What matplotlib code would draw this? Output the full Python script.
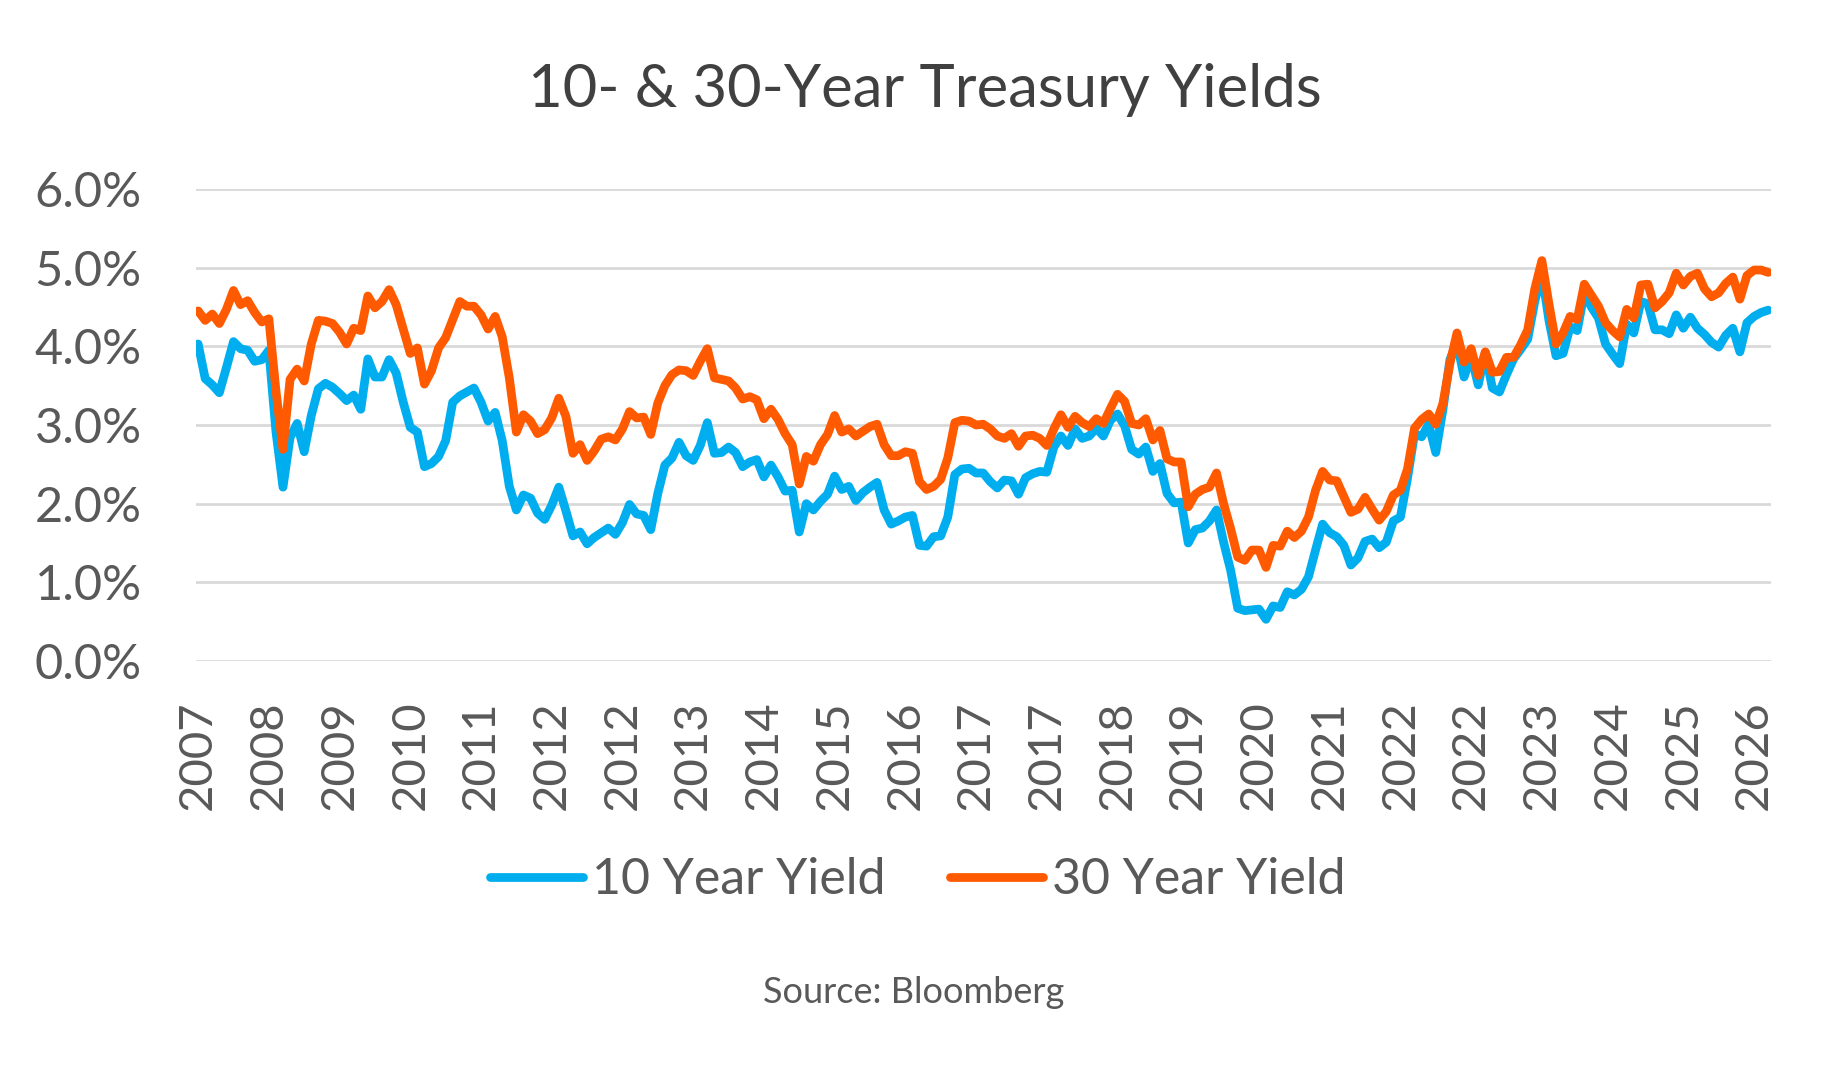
import pandas as pd
import matplotlib
matplotlib.use("Agg")
import matplotlib.pyplot as plt

plt.rcParams['font.family'] = ['Lato', 'DejaVu Sans']

# month-end yields (%), Dec 2007 onwards
yield_10y = [
    4.03,
    3.59, 3.51, 3.41, 3.73, 4.06, 3.97, 3.95, 3.81, 3.83, 3.95, 2.92, 2.21,  # 2008
    2.84, 3.02, 2.66, 3.12, 3.46, 3.53, 3.48, 3.40, 3.31, 3.38, 3.20, 3.84,  # 2009
    3.61, 3.61, 3.83, 3.66, 3.29, 2.97, 2.91, 2.47, 2.51, 2.60, 2.80, 3.29,  # 2010
    3.37, 3.42, 3.47, 3.29, 3.05, 3.16, 2.80, 2.22, 1.92, 2.11, 2.07, 1.88,  # 2011
    1.80, 1.98, 2.21, 1.91, 1.59, 1.64, 1.49, 1.57, 1.63, 1.69, 1.61, 1.76,  # 2012
    1.99, 1.87, 1.85, 1.67, 2.13, 2.49, 2.58, 2.78, 2.61, 2.55, 2.74, 3.03,  # 2013
    2.64, 2.65, 2.72, 2.65, 2.47, 2.53, 2.56, 2.34, 2.49, 2.34, 2.16, 2.17,  # 2014
    1.64, 2.00, 1.92, 2.03, 2.12, 2.35, 2.18, 2.22, 2.04, 2.14, 2.21, 2.27,  # 2015
    1.92, 1.74, 1.78, 1.83, 1.85, 1.47, 1.46, 1.58, 1.59, 1.83, 2.37, 2.44,  # 2016
    2.45, 2.39, 2.39, 2.28, 2.20, 2.30, 2.29, 2.12, 2.33, 2.38, 2.41, 2.40,  # 2017
    2.72, 2.86, 2.74, 2.95, 2.83, 2.86, 2.96, 2.86, 3.06, 3.14, 2.99, 2.69,  # 2018
    2.63, 2.72, 2.41, 2.51, 2.13, 2.01, 2.02, 1.50, 1.67, 1.69, 1.78, 1.92,  # 2019
    1.51, 1.15, 0.67, 0.64, 0.65, 0.66, 0.53, 0.70, 0.68, 0.88, 0.84, 0.91,  # 2020
    1.07, 1.41, 1.74, 1.63, 1.58, 1.47, 1.22, 1.31, 1.52, 1.55, 1.44, 1.51,  # 2021
    1.78, 1.83, 2.32, 2.89, 2.85, 3.01, 2.65, 3.19, 3.83, 4.05, 3.61, 3.88,  # 2022
    3.51, 3.92, 3.47, 3.42, 3.64, 3.84, 3.96, 4.09, 4.57, 4.93, 4.33, 3.88,  # 2023
    3.91, 4.25, 4.20, 4.68, 4.50, 4.36, 4.03, 3.90, 3.78, 4.28, 4.17, 4.57,  # 2024
    4.54, 4.21, 4.21, 4.16, 4.40, 4.23, 4.37, 4.23, 4.15, 4.05, 3.99, 4.14,  # 2025
    4.23, 3.93, 4.30, 4.38, 4.43, 4.46,                                      # 2026
]

yield_30y = [
    4.45,
    4.33, 4.41, 4.29, 4.47, 4.71, 4.53, 4.58, 4.43, 4.31, 4.35, 3.44, 2.69,  # 2008
    3.58, 3.71, 3.56, 4.03, 4.33, 4.32, 4.29, 4.18, 4.03, 4.23, 4.20, 4.64,  # 2009
    4.49, 4.57, 4.72, 4.53, 4.22, 3.91, 3.98, 3.52, 3.69, 3.98, 4.11, 4.34,  # 2010
    4.57, 4.51, 4.51, 4.40, 4.22, 4.38, 4.12, 3.60, 2.91, 3.13, 3.05, 2.89,  # 2011
    2.94, 3.09, 3.34, 3.11, 2.64, 2.75, 2.55, 2.67, 2.82, 2.85, 2.81, 2.95,  # 2012
    3.17, 3.09, 3.10, 2.88, 3.28, 3.50, 3.64, 3.70, 3.69, 3.63, 3.81, 3.97,  # 2013
    3.60, 3.58, 3.56, 3.47, 3.33, 3.36, 3.32, 3.08, 3.20, 3.07, 2.89, 2.75,  # 2014
    2.25, 2.60, 2.54, 2.75, 2.88, 3.12, 2.91, 2.95, 2.86, 2.92, 2.98, 3.01,  # 2015
    2.75, 2.61, 2.61, 2.66, 2.64, 2.28, 2.18, 2.22, 2.31, 2.58, 3.03, 3.06,  # 2016
    3.05, 3.00, 3.01, 2.95, 2.86, 2.83, 2.89, 2.73, 2.86, 2.87, 2.83, 2.74,  # 2017
    2.95, 3.13, 2.97, 3.11, 3.03, 2.98, 3.08, 3.02, 3.21, 3.39, 3.30, 3.02,  # 2018
    3.00, 3.08, 2.81, 2.93, 2.57, 2.53, 2.53, 1.96, 2.12, 2.18, 2.21, 2.39,  # 2019
    2.00, 1.68, 1.32, 1.28, 1.41, 1.41, 1.19, 1.47, 1.46, 1.65, 1.57, 1.65,  # 2020
    1.83, 2.17, 2.41, 2.30, 2.29, 2.09, 1.89, 1.93, 2.08, 1.93, 1.79, 1.90,  # 2021
    2.11, 2.17, 2.44, 2.96, 3.07, 3.14, 3.01, 3.27, 3.78, 4.17, 3.80, 3.97,  # 2022
    3.63, 3.93, 3.67, 3.68, 3.86, 3.86, 4.02, 4.21, 4.73, 5.09, 4.54, 4.03,  # 2023
    4.17, 4.38, 4.34, 4.79, 4.65, 4.51, 4.30, 4.20, 4.12, 4.47, 4.36, 4.78,  # 2024
    4.79, 4.49, 4.57, 4.68, 4.93, 4.78, 4.89, 4.93, 4.73, 4.63, 4.68, 4.80,  # 2025
    4.88, 4.60, 4.90, 4.97, 4.97, 4.94,                                      # 2026
]

dates = pd.date_range('2007-12-31', periods=len(yield_10y), freq='ME')
label_every = 10
tick_pos = list(range(0, len(dates), label_every))
tick_labels = [str(dates[i].year) for i in tick_pos]

blue = '#00AEEF'
orange = '#FF5A00'
grey_text = '#595959'

fig = plt.figure(figsize=(18.28, 10.71), dpi=100)
ax = fig.add_axes([196 / 1828, 1 - 661 / 1071, 1575 / 1828, 472 / 1071])

x = range(len(dates))
ax.plot(x, yield_10y, color=blue, lw=6.3, solid_capstyle='round',
        solid_joinstyle='round', label='10 Year Yield', zorder=3)
ax.plot(x, yield_30y, color=orange, lw=6.3, solid_capstyle='round',
        solid_joinstyle='round', label='30 Year Yield', zorder=4)

ax.set_ylim(0, 6)
ax.set_xlim(-0.3, len(dates) - 1 + 0.4)
ax.set_yticks(range(0, 7))
ax.set_yticklabels([f'{v:.1f}%' for v in range(0, 7)])
ax.set_xticks(tick_pos)
ax.set_xticklabels(tick_labels, rotation=90)
ax.grid(axis='y', color='#D9D9D9', lw=2)
ax.set_axisbelow(True)
for s in ax.spines.values():
    s.set_visible(False)
ax.tick_params(axis='y', length=0, pad=39, labelsize=35, labelcolor=grey_text)
ax.tick_params(axis='x', length=0, pad=28, labelsize=34, labelcolor=grey_text)

fig.text(0.506, 1 - 107 / 1071, '10- & 30-Year Treasury Yields', ha='center',
         va='baseline', fontsize=43, color='#404040')

leg = fig.legend(loc='center', bbox_to_anchor=(0.502, 1 - 880 / 1071), ncol=2,
                 frameon=False, fontsize=36, handlelength=1.85,
                 handletextpad=0.18, columnspacing=1.3, labelcolor=grey_text)
for line in leg.get_lines():
    line.set_linewidth(6.3)

fig.text(0.5, 1 - 1003 / 1071, 'Source: Bloomberg', ha='center', va='baseline',
         fontsize=26, color=grey_text)

fig.savefig('out.png', dpi=100, facecolor='white')
